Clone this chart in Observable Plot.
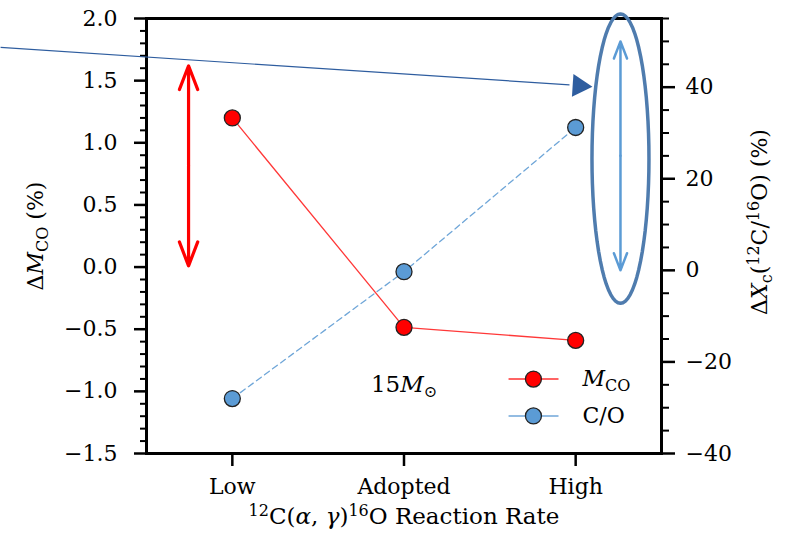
<!DOCTYPE html>
<html><head><meta charset="utf-8">
<script src="https://cdn.jsdelivr.net/npm/d3@7"></script>
<script src="https://cdn.jsdelivr.net/npm/@observablehq/plot@0.6"></script>
<style>
body{margin:0;background:#fff;}
#chart svg{overflow:visible;}
#chart svg, #chart svg text, #chart svg tspan{font-family:"DejaVu Serif",serif !important;}
#chart g[aria-label*="tick label"] text{font-size:22px !important;}
</style></head><body><div id="chart"></div>
<script>
// ---- data ----
const rates = ["Low", "Adopted", "High"];
const mcoValues = [1.2, -0.485, -0.59];      // ΔM_CO (%), left axis
const coValues = [-28.0, -0.3, 31.2];        // ΔX_c(12C/16O) (%), right axis
const leftTicks = [-1.5, -1.0, -0.5, 0.0, 0.5, 1.0, 1.5, 2.0];
const rightTicks = [-40, -20, 0, 20, 40];
const leftDomain = [-1.5, 2.0];
const rightDomain = [-40, 55];
const xDomain = [-0.5, 2.5];

// annotation anchors (data units; y in left-axis units unless noted)
const redArrow = {x: -0.255, y1: 0.01, y2: 1.62};
const blueArrow = {x: 2.261, r1: 0, r2: 50};           // right-axis units
const ellipse = {cx: 2.261, cr: 24.4, rx: 0.166, rr: 31.6}; // right-axis units
const pointer = {x1: -1.35, y1: 1.767, x2: 1.964, y2: 1.466, hx: 2.021, hy: 1.458};
const legendRows = [
  {key: "MCO", y: -0.901, color: "#ff0000", line: "#ff3030", dash: null},
  {key: "C/O", y: -1.198, color: "#5b9bd5", line: "#6fa6d8", dash: "6,4"}
];
const legendX = {x1: 1.609, x2: 1.900, mx: 1.754, tx: 2.04};
const massLabel = {x: 1, y: -0.949, text: "15Msun"};

// ---- helpers ----
const toLeft = v => leftDomain[0] + (v - rightDomain[0]) * (leftDomain[1] - leftDomain[0]) / (rightDomain[1] - rightDomain[0]);
const fromLeft = y => rightDomain[0] + (y - leftDomain[0]) * (rightDomain[1] - rightDomain[0]) / (leftDomain[1] - leftDomain[0]);
const minus = "\u2212";
const fmtLeft = v => (v < -1e-9 ? minus : "") + Math.abs(v).toFixed(1);
const fmtRight = v => (Math.round(v) < 0 ? minus : "") + Math.abs(Math.round(v));

const leftMinor = d3.range(-15, 21).filter(i => i % 5 !== 0).map(i => i / 10);
const rightMinor = d3.range(-40, 56, 5).filter(v => v % 20 !== 0);

const mco = rates.map((r, i) => ({i, y: mcoValues[i]}));
const co = rates.map((r, i) => ({i, y: toLeft(coValues[i])}));

const ell = d3.range(0, 73).map(k => {
  const t = k / 72 * 2 * Math.PI;
  return {x: ellipse.cx + ellipse.rx * Math.cos(t), y: toLeft(ellipse.cr + ellipse.rr * Math.sin(t))};
});

const redMid = (redArrow.y1 + redArrow.y2) / 2;
const blueMid = (blueArrow.r1 + blueArrow.r2) / 2;

const FONT = "'DejaVu Serif', serif";

const plot = Plot.plot({
  width: 789,
  height: 544,
  marginLeft: 146,
  marginRight: 128,
  marginTop: 18,
  marginBottom: 91,
  style: {fontFamily: FONT, fontSize: "22px", background: "#fff", color: "#000"},
  x: {domain: xDomain},
  y: {domain: leftDomain},
  marks: [
    // axes
    Plot.axisY(leftTicks, {anchor: "left", tickSize: 12, tickPadding: 17, strokeWidth: 2.5, tickFormat: fmtLeft, label: null}),
    Plot.axisY(leftMinor, {anchor: "left", tickSize: 6, strokeWidth: 2, tickFormat: () => "", label: null}),
    Plot.axisY(rightTicks.map(toLeft), {anchor: "right", tickSize: 13, tickPadding: 11, strokeWidth: 2.5, tickFormat: d => fmtRight(fromLeft(d)), label: null}),
    Plot.axisY(rightMinor.map(toLeft), {anchor: "right", tickSize: 7, strokeWidth: 2, tickFormat: () => "", label: null}),
    Plot.axisX([0, 1, 2], {anchor: "bottom", tickSize: 13, tickPadding: 12, strokeWidth: 2.5, tickFormat: i => rates[i], label: null}),
    Plot.frame({stroke: "#000", strokeWidth: 3}),
    // series lines
    Plot.line(mco, {x: "i", y: "y", stroke: "#ff3838", strokeWidth: 1.3}),
    Plot.line(co, {x: "i", y: "y", stroke: "#6fa6d8", strokeWidth: 1.3, strokeDasharray: "6,4"}),
    Plot.dot(mco, {x: "i", y: "y", r: 8, fill: "#ff0000", stroke: "#222", strokeWidth: 1.3}),
    Plot.dot(co, {x: "i", y: "y", r: 8, fill: "#5b9bd5", stroke: "#222", strokeWidth: 1.3}),
    // red double arrow
    Plot.arrow([0], {x1: redArrow.x, x2: redArrow.x, y1: redMid, y2: redArrow.y2, stroke: "#ff0000", strokeWidth: 3.2, headLength: 12, headAngle: 42}),
    Plot.arrow([0], {x1: redArrow.x, x2: redArrow.x, y1: redMid, y2: redArrow.y1, stroke: "#ff0000", strokeWidth: 3.2, headLength: 12, headAngle: 42}),
    // blue double arrow
    Plot.arrow([0], {x1: blueArrow.x, x2: blueArrow.x, y1: toLeft(blueMid), y2: toLeft(blueArrow.r2), stroke: "#5b9bd5", strokeWidth: 2.5, headLength: 11, headAngle: 42}),
    Plot.arrow([0], {x1: blueArrow.x, x2: blueArrow.x, y1: toLeft(blueMid), y2: toLeft(blueArrow.r1), stroke: "#5b9bd5", strokeWidth: 2.5, headLength: 11, headAngle: 42}),
    // ellipse
    Plot.line(ell, {x: "x", y: "y", stroke: "#4f7cae", strokeWidth: 3.5}),
    // pointer arrow
    Plot.link([0], {x1: pointer.x1, y1: pointer.y1, x2: pointer.x2, y2: pointer.y2, stroke: "#2e5d9f", strokeWidth: 1.2}),
    Plot.dot([0], {x: pointer.hx, y: pointer.hy, symbol: "triangle", r: 8.5, rotate: 93.8, fill: "#2e5d9f", stroke: "none"}),
    // legend
    Plot.link(legendRows, {x1: legendX.x1, x2: legendX.x2, y1: "y", y2: "y", stroke: "line", strokeWidth: 1.6, strokeDasharray: d => d.dash}),
    Plot.dot(legendRows, {x: legendX.mx, y: "y", r: 8, fill: "color", stroke: "#222", strokeWidth: 1.3}),
    Plot.text(legendRows, {x: legendX.tx, y: "y", text: "key", textAnchor: "start", fontSize: 22}),
    Plot.text([massLabel], {x: "x", y: "y", text: "text", fontSize: 23}),
    // axis titles
    Plot.text(["LEFTLABEL"], {frameAnchor: "left", textAnchor: "middle", dx: -111, rotate: -90, fontSize: 22}),
    Plot.text(["RIGHTLABEL"], {frameAnchor: "right", textAnchor: "middle", dx: 98, dy: -14, rotate: -90, fontSize: 22}),
    Plot.text(["XLABEL"], {frameAnchor: "bottom", textAnchor: "middle", dy: 70, fontSize: 23})
  ]
});

const sub = (s) => `<tspan dy="5" font-size="16">${s}</tspan>`;
const sup = (s) => `<tspan dy="-8" font-size="16">${s}</tspan>`;
const rich = {
  "MCO": `<tspan font-style="italic">M</tspan>${sub("CO")}`,
  "C/O": `C/O`,
  "15Msun": `15<tspan font-style="italic">M</tspan><tspan dy="5" font-size="16">\u2299</tspan>`,
  "LEFTLABEL": `\u0394<tspan font-style="italic">M</tspan>${sub("CO")}<tspan dy="-5"> (%)</tspan>`,
  "RIGHTLABEL": `\u0394<tspan font-style="italic">X</tspan>${sub("c")}<tspan dy="-5">(</tspan>${sup("12")}<tspan dy="8">C/</tspan>${sup("16")}<tspan dy="8">O) (%)</tspan>`,
  "XLABEL": `${sup("12")}<tspan dy="8">C(</tspan><tspan font-style="italic">\u03b1</tspan>, <tspan font-style="italic">\u03b3</tspan>)${sup("16")}<tspan dy="8">O Reaction Rate</tspan>`
};
plot.querySelectorAll("text").forEach(t => {
  const k = t.textContent;
  if (rich[k] !== undefined) t.innerHTML = rich[k];
});
document.getElementById("chart").appendChild(plot);
</script>
</body></html>
